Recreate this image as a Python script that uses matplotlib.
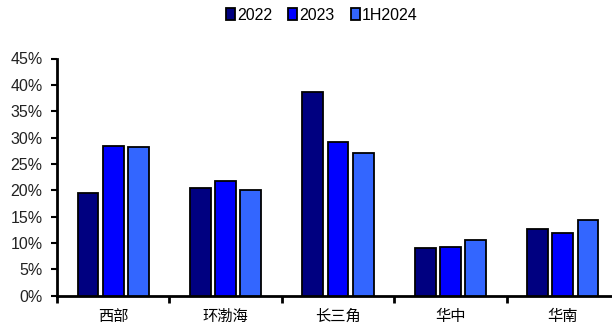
import matplotlib
matplotlib.use("Agg")
import matplotlib.pyplot as plt
import numpy as np
from matplotlib.ticker import FixedLocator, NullFormatter

categories = ["西部", "环渤海", "长三角", "华中", "华南"]
series_names = ["2022", "2023", "1H2024"]
v2022 = [19.4, 20.5, 38.6, 9.0, 12.6]
v2023 = [28.4, 21.8, 29.1, 9.2, 11.9]
v1h2024 = [28.2, 20.0, 27.1, 10.5, 14.3]
yticks = [0, 5, 10, 15, 20, 25, 30, 35, 40, 45]
colors = ["#000080", "#0000FF", "#3366FF"]

plt.rcParams['font.family'] = ['Liberation Sans', 'Noto Sans CJK SC', 'DejaVu Sans']

fig = plt.figure(figsize=(6.12, 3.24), dpi=100)
ax = fig.add_axes([57/612, 28.3/324, 562/612, (295.7-58.5)/324])

x = np.arange(len(categories))
pitch = 0.225
width = 0.185
for i, (vals, name, c) in enumerate(zip([v2022, v2023, v1h2024], series_names, colors)):
    ax.bar(x + (i - 1) * pitch, vals, width, color=c, edgecolor="black",
           linewidth=1.3, label=name, zorder=3)

ax.set_xlim(-0.5, len(categories) - 0.5)
ax.set_ylim(0, 45)
ax.set_yticks(yticks)
ax.set_yticklabels([f"{t}%" for t in yticks], fontsize=11.5, color="#222222")
ax.set_xticks(x)
ax.set_xticklabels(categories, fontsize=11, family=['Noto Sans CJK SC', 'DejaVu Sans'])
ax.tick_params(axis='x', which='major', length=0, pad=9)
ax.xaxis.set_minor_locator(FixedLocator(np.arange(-0.5, len(categories) + 0.5, 1)))
ax.xaxis.set_minor_formatter(NullFormatter())
ax.tick_params(axis='x', which='minor', length=5, width=2, direction='out')
ax.tick_params(axis='y', length=4.5, width=1.5, direction='out', pad=6)

for s in ["top", "right"]:
    ax.spines[s].set_visible(False)
for s in ["left", "bottom"]:
    ax.spines[s].set_linewidth(2)

leg = fig.legend(loc="center", bbox_to_anchor=(322/612, 1 - 15/324), ncol=3,
                 frameon=False, fontsize=11.5, handlelength=0.55, handleheight=0.75,
                 handletextpad=0.15, columnspacing=1.0, borderaxespad=0)

fig.savefig("out.png", dpi=100)
